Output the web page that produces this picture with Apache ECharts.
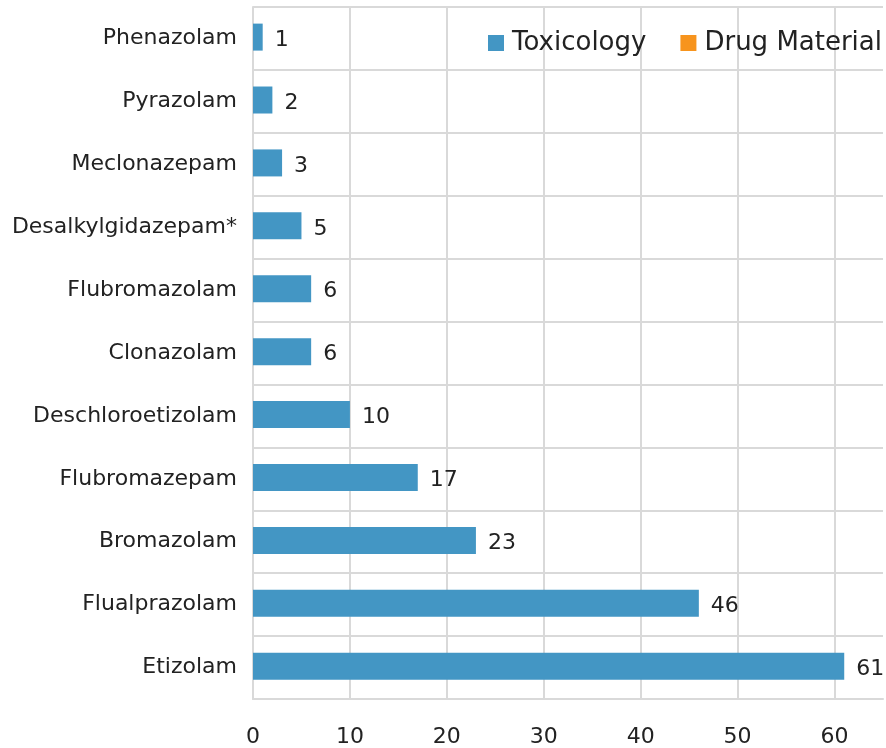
<!DOCTYPE html>
<html>
<head>
<meta charset="utf-8">
<script src="https://cdn.jsdelivr.net/npm/echarts@6/dist/echarts.min.js"></script>
<style>
  html, body { margin: 0; padding: 0; background: #fff; }
  #chart { width: 886px; height: 748px; }
</style>
</head>
<body>
<div id="chart"></div>
<script>
// categories, top to bottom as in the picture
var drugs = ["Phenazolam", "Pyrazolam", "Meclonazepam", "Desalkylgidazepam*", "Flubromazolam",
             "Clonazolam", "Deschloroetizolam", "Flubromazepam", "Bromazolam", "Flualprazolam", "Etizolam"];
var toxicology = [1, 2, 3, 5, 6, 6, 10, 17, 23, 46, 61];
var drugMaterial = []; // only in legend, no bars shown
var xTicks = [0, 10, 20, 30, 40, 50, 60];

var FONT = "DejaVu Sans";
var chart = echarts.init(document.getElementById("chart"));

chart.setOption({
    animation: false,
    textStyle: { fontFamily: FONT },
    legend: {
        right: -1,
        top: 25,
        icon: "rect",
        itemWidth: 16,
        itemHeight: 16,
        itemGap: 34,
        textStyle: { fontSize: 26, color: "#222", fontFamily: FONT, padding: [0, 0, 0, 3] },
        data: ["Toxicology", "Drug Material"]
    },
    grid: {
        left: 253,
        right: 0,
        top: 7,
        bottom: 48,
        containLabel: false
    },
    xAxis: {
        type: "value",
        min: 0,
        max: 65,
        interval: 10,
        axisLine: { show: true, lineStyle: { color: "#d9d9d9", width: 2 } },
        axisTick: { show: false },
        splitLine: { showMaxLine: false, lineStyle: { color: "#d9d9d9", width: 2 } },
        axisLabel: {
            fontSize: 22,
            color: "#222",
            margin: 27,
            formatter: function(v) { return xTicks.indexOf(v) >= 0 ? String(v) : ""; }
        }
    },
    yAxis: {
        type: "category",
        inverse: true,
        data: drugs,
        axisLine: { show: true, lineStyle: { color: "#d9d9d9", width: 2 } },
        axisTick: { show: false },
        splitLine: { show: true, lineStyle: { color: "#d9d9d9", width: 2 } },
        axisLabel: { fontSize: 22, color: "#222", margin: 16 }
    },
    series: [
        {
            name: "Toxicology",
            type: "bar",
            barWidth: 27,
            itemStyle: { color: "#4396c4" },
            label: {
                show: true,
                position: "right",
                distance: 12,
                offset: [0, 3],
                fontSize: 22,
                color: "#222"
            },
            data: toxicology
        },
        {
            name: "Drug Material",
            type: "bar",
            itemStyle: { color: "#f7941d" },
            data: drugMaterial
        }
    ]
});
</script>
</body>
</html>
